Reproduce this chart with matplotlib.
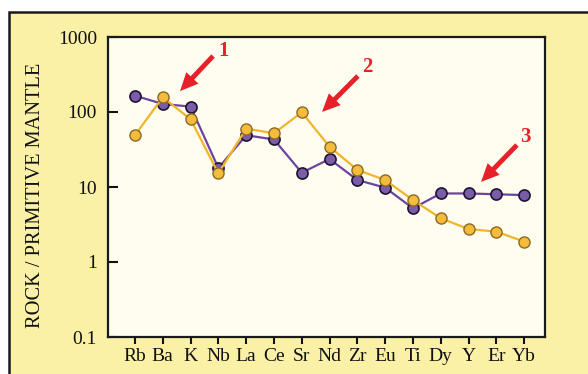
import matplotlib
matplotlib.use("Agg")
import matplotlib.pyplot as plt
from matplotlib.patches import Rectangle

elements = ["Rb", "Ba", "K", "Nb", "La", "Ce", "Sr", "Nd", "Zr", "Eu", "Ti", "Dy", "Y", "Er", "Yb"]
purple_vals = [165, 128, 118, 17.9, 49, 43, 15.5, 23.6, 12.4, 9.8, 5.2, 8.2, 8.2, 8.0, 7.8]
yellow_vals = [49, 157, 80, 15.2, 60, 52, 99, 34.4, 16.9, 12.4, 6.7, 3.83, 2.75, 2.54, 1.87]
ytick_vals = [0.1, 1, 10, 100, 1000]
ytick_labels = ["0.1", "1", "10", "100", "1000"]
ylabel = "ROCK / PRIMITIVE MANTLE"
# arrows: (label, head_x, head_y, tail_x, tail_y, text_x, text_y)
arrow_labels = ["1", "2", "3"]
arrow_heads = [(1.62, 190), (6.73, 100), (12.45, 11.7)]
arrow_tails = [(2.81, 558), (8.02, 302), (13.74, 36.3)]
arrow_text = [(3.2, 650), (8.35, 398), (14.03, 46.4)]

plt.rcParams['font.family'] = ['Liberation Serif', 'DejaVu Serif']

fig = plt.figure(figsize=(5.88, 3.74), dpi=100)
fig.patch.set_facecolor("white")
W, H = 588, 374
# outer yellow framed panel
frame = Rectangle((9 / W, -0.05), 1.2, 1 - 12 / H + 0.05, transform=fig.transFigure,
                  facecolor="#faf1a6", edgecolor="#1a1a1a", linewidth=1.8, zorder=-10)
fig.patches.append(frame)

ax = fig.add_axes([108 / W, 1 - 337 / H, (545 - 108) / W, (337 - 37) / H])
ax.set_zorder(1)
ax.set_facecolor("#fffdf0")
x = list(range(len(elements)))

ax.plot(x, purple_vals, color="#6c44a0", lw=1.6, marker="o", ms=8,
        mfc="#7a5ca8", mec="#1e1430", mew=1.2, zorder=3)
ax.plot(x, yellow_vals, color="#f2b428", lw=1.6, marker="o", ms=8,
        mfc="#f5bb3c", mec="#8a6a20", mew=1.0, zorder=4)

ax.set_yscale("log")
ax.set_ylim(0.1, 1000)
ax.set_xlim(-0.97, 14.75)
ax.set_yticks(ytick_vals)
ax.set_yticklabels(ytick_labels)
ax.yaxis.set_minor_locator(matplotlib.ticker.NullLocator())
ax.set_xticks(x)
ax.set_xticklabels(elements)

ax.tick_params(axis="y", direction="in", length=7, width=1.5, pad=8, labelsize=14, colors="#111111")
ax.tick_params(axis="x", direction="out", length=5, width=1.5, pad=3, labelsize=14, colors="#111111")
for s in ax.spines.values():
    s.set_linewidth(1.6)
    s.set_color("#1a1a1a")

fig.text(36 / W, 1 - 195 / H, ylabel, rotation=90, ha="center", va="center",
         fontsize=14.7, color="#111111", zorder=2)

for lab, hd, tl, tx in zip(arrow_labels, arrow_heads, arrow_tails, arrow_text):
    ax.annotate("", xy=hd, xytext=tl,
                arrowprops=dict(arrowstyle="simple,head_length=1.3,head_width=1.2,tail_width=0.35",
                                color="#e8202a", lw=0, shrinkA=0, shrinkB=0), zorder=5)
    ax.text(tx[0], tx[1], lab, color="#e8202a", fontsize=15, fontweight="bold",
            ha="center", va="center", zorder=5)

fig.savefig("out.png", dpi=100, facecolor=fig.get_facecolor())
